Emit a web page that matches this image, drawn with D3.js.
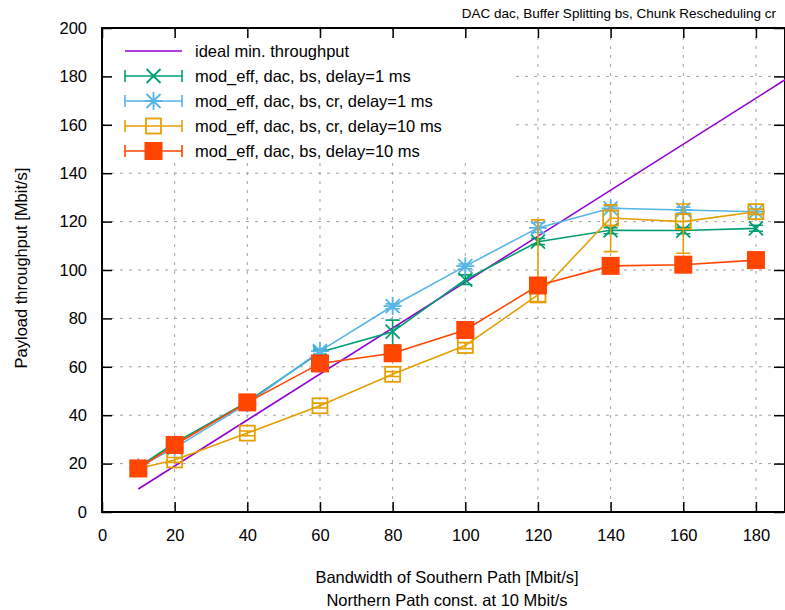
<!DOCTYPE html>
<html>
<head>
<meta charset="utf-8">
<script src="https://cdn.jsdelivr.net/npm/d3@7"></script>
<style>
  body { margin: 0; background: #fff; }
  text { font-family: "Liberation Sans", Arial, sans-serif; fill: #000; }
</style>
</head>
<body>
<script>
// x positions (Southern path bandwidth, Mbit/s)
var bandwidth = [10, 20, 40, 60, 80, 100, 120, 140, 160, 180];

// ideal line end points
var idealX = [10, 188];
var idealY = [9.5, 178.6];

// measured throughput + error bar ranges
var dacBs1 = [18.5, 28.5, 45.5, 66, 74.5, 96, 111.7, 116.4, 116.3, 117.2];
var dacBs1Lo = [17.5, 27.5, 44.5, 65, 69, 94, 110.5, 115, 115, 116];
var dacBs1Hi = [20.5, 29.5, 46.5, 67, 79.3, 98, 113, 117.5, 117.5, 118.5];

var dacBsCr1 = [18.5, 26.5, 44.8, 66.5, 85.1, 101.6, 117.4, 125.5, 124.8, 124.1];
var dacBsCr1Lo = [17.5, 25.5, 43.8, 65.5, 84, 100.5, 115.5, 124.5, 123.5, 123];
var dacBsCr1Hi = [20.5, 27.5, 45.8, 67.5, 86, 102.5, 119.5, 126.5, 126, 125];

var dacBsCr10 = [18, 21.5, 32.6, 43.9, 56.9, 68.8, 89.7, 121.5, 120, 124.1];
var dacBsCr10Lo = [17.5, 20.5, 31.5, 43, 56, 67.5, 87, 107.6, 106.9, 123];
var dacBsCr10Hi = [18.5, 22.5, 33.5, 45, 58, 70, 120.7, 126.9, 127.3, 125.2];

var dacBs10 = [18, 27.7, 45.3, 61.4, 65.6, 75.2, 93.6, 101.7, 102.2, 104.1];

var xTicks = [0, 20, 40, 60, 80, 100, 120, 140, 160, 180];
var yTicks = [0, 20, 40, 60, 80, 100, 120, 140, 160, 180, 200];

var width = 785, height = 610;
var plotLeft = 102, plotRight = 785, plotTop = 28, plotBottom = 512;

var x = d3.scaleLinear().domain([0, 188]).range([plotLeft, plotRight]);
var y = d3.scaleLinear().domain([0, 200]).range([plotBottom, plotTop]);

var svg = d3.select('body').append('svg')
  .attr('width', width)
  .attr('height', height);

// grid
var grid = svg.append('g');
grid.selectAll('.gx')
  .data(xTicks.slice(1))
  .enter()
  .append('line')
    .attr('x1', function (d) { return x(d); })
    .attr('x2', function (d) { return x(d); })
    .attr('y1', plotTop)
    .attr('y2', plotBottom)
    .attr('stroke', '#a0a0a0')
    .attr('stroke-width', 1)
    .attr('stroke-dasharray', '3,6');
grid.selectAll('.gy')
  .data(yTicks.slice(1, -1))
  .enter()
  .append('line')
    .attr('x1', plotLeft)
    .attr('x2', plotRight)
    .attr('y1', function (d) { return y(d); })
    .attr('y2', function (d) { return y(d); })
    .attr('stroke', '#a0a0a0')
    .attr('stroke-width', 1)
    .attr('stroke-dasharray', '3,6');

// opaque legend background
svg.append('rect')
  .attr('x', 112).attr('y', 38)
  .attr('width', 400).attr('height', 125)
  .attr('fill', '#fff');

// axes with inward ticks, mirrored on top and right
var fmt = d3.format('d');
function styleAxis(g) {
  g.select('.domain').remove();
  g.selectAll('line').attr('stroke', '#000').attr('stroke-width', 1.5);
  g.selectAll('text')
    .style('font-family', '"Liberation Sans", Arial, sans-serif')
    .style('font-size', '16.5px');
}

svg.append('g')
  .attr('transform', 'translate(0,' + plotBottom + ')')
  .call(d3.axisBottom(x).tickValues(xTicks).tickFormat(fmt).tickSizeInner(-10).tickPadding(17))
  .call(styleAxis);
svg.append('g')
  .attr('transform', 'translate(0,' + plotTop + ')')
  .call(d3.axisTop(x).tickValues(xTicks).tickFormat('').tickSizeInner(-10))
  .call(styleAxis);
svg.append('g')
  .attr('transform', 'translate(' + plotLeft + ',0)')
  .call(d3.axisLeft(y).tickValues(yTicks).tickFormat(fmt).tickSizeInner(-10).tickPadding(15))
  .call(styleAxis);
svg.append('g')
  .attr('transform', 'translate(' + (plotRight - 1) + ',0)')
  .call(d3.axisRight(y).tickValues(yTicks).tickFormat('').tickSizeInner(-10))
  .call(styleAxis);

// border
svg.append('rect')
  .attr('x', plotLeft).attr('y', plotTop)
  .attr('width', plotRight - plotLeft).attr('height', plotBottom - plotTop)
  .attr('fill', 'none')
  .attr('stroke', '#000')
  .attr('stroke-width', 2);

// marker drawing
function drawMarker(g, type, color, cx, cy) {
  if (type === 'x') {
    var s = 7;
    g.append('path')
      .attr('d', 'M' + (cx - s) + ',' + (cy - s) + 'L' + (cx + s) + ',' + (cy + s) +
        'M' + (cx - s) + ',' + (cy + s) + 'L' + (cx + s) + ',' + (cy - s))
      .attr('stroke', color).attr('stroke-width', 1.8).attr('fill', 'none');
  } else if (type === 'star') {
    var s2 = 7;
    g.append('path')
      .attr('d', 'M' + (cx - s2) + ',' + (cy - s2) + 'L' + (cx + s2) + ',' + (cy + s2) +
        'M' + (cx - s2) + ',' + (cy + s2) + 'L' + (cx + s2) + ',' + (cy - s2) +
        'M' + cx + ',' + (cy - s2 - 2) + 'L' + cx + ',' + (cy + s2 + 2) +
        'M' + (cx - s2 - 2) + ',' + cy + 'L' + (cx + s2 + 2) + ',' + cy)
      .attr('stroke', color).attr('stroke-width', 1.8).attr('fill', 'none');
  } else if (type === 'box') {
    g.append('rect')
      .attr('x', cx - 7.5).attr('y', cy - 7.5)
      .attr('width', 15).attr('height', 15)
      .attr('stroke', color).attr('stroke-width', 1.8).attr('fill', 'none');
  } else if (type === 'fbox') {
    g.append('rect')
      .attr('x', cx - 9).attr('y', cy - 9)
      .attr('width', 18).attr('height', 18)
      .attr('fill', color);
  }
}

var series = [
  { label: 'mod_eff, dac, bs, delay=1 ms', color: '#009e73', marker: 'x', v: dacBs1, lo: dacBs1Lo, hi: dacBs1Hi },
  { label: 'mod_eff, dac, bs, cr, delay=1 ms', color: '#56b4e9', marker: 'star', v: dacBsCr1, lo: dacBsCr1Lo, hi: dacBsCr1Hi },
  { label: 'mod_eff, dac, bs, cr, delay=10 ms', color: '#e69f00', marker: 'box', v: dacBsCr10, lo: dacBsCr10Lo, hi: dacBsCr10Hi },
  { label: 'mod_eff, dac, bs, delay=10 ms', color: '#ff4500', marker: 'fbox', v: dacBs10, lo: dacBs10, hi: dacBs10 }
];

var plot = svg.append('g');

// ideal line
plot.append('path')
  .datum(idealX.map(function (d, i) { return [d, idealY[i]]; }))
  .attr('d', d3.line().x(function (d) { return x(d[0]); }).y(function (d) { return y(d[1]); }))
  .attr('stroke', '#9400d3')
  .attr('stroke-width', 1.6)
  .attr('fill', 'none');

series.forEach(function (s) {
  var g = plot.append('g');
  g.append('path')
    .datum(bandwidth.map(function (d, i) { return [d, s.v[i]]; }))
    .attr('d', d3.line().x(function (d) { return x(d[0]); }).y(function (d) { return y(d[1]); }))
    .attr('stroke', s.color)
    .attr('stroke-width', 1.6)
    .attr('fill', 'none');
  // error bars
  bandwidth.forEach(function (b, i) {
    if (s.hi[i] - s.lo[i] < 0.1) return;
    var cx = x(b);
    g.append('path')
      .attr('d', 'M' + cx + ',' + y(s.lo[i]) + 'L' + cx + ',' + y(s.hi[i]) +
        'M' + (cx - 7) + ',' + y(s.lo[i]) + 'L' + (cx + 7) + ',' + y(s.lo[i]) +
        'M' + (cx - 7) + ',' + y(s.hi[i]) + 'L' + (cx + 7) + ',' + y(s.hi[i]))
      .attr('stroke', s.color)
      .attr('stroke-width', 1.6)
      .attr('fill', 'none');
  });
  bandwidth.forEach(function (b, i) {
    drawMarker(g, s.marker, s.color, x(b), y(s.v[i]));
  });
});

// legend
var legend = svg.append('g');
var legendRows = [{ label: 'ideal min. throughput', color: '#9400d3', marker: null }].concat(series);
legendRows.forEach(function (s, i) {
  var ly = 51 + i * 25;
  legend.append('line')
    .attr('x1', 125).attr('x2', 182)
    .attr('y1', ly).attr('y2', ly)
    .attr('stroke', s.color).attr('stroke-width', 1.6);
  if (s.marker) {
    legend.append('path')
      .attr('d', 'M125,' + (ly - 6) + 'L125,' + (ly + 6) + 'M182,' + (ly - 6) + 'L182,' + (ly + 6))
      .attr('stroke', s.color).attr('stroke-width', 1.6);
    drawMarker(legend, s.marker, s.color, 153.5, ly);
  }
  legend.append('text')
    .attr('x', 195).attr('y', ly + 6)
    .style('font-size', '16.5px')
    .text(s.label);
});

// titles
svg.append('text')
  .attr('x', 776).attr('y', 18)
  .attr('text-anchor', 'end')
  .style('font-size', '13.5px')
  .text('DAC dac, Buffer Splitting bs, Chunk Rescheduling cr');

svg.append('text')
  .attr('transform', 'translate(27,268) rotate(-90)')
  .attr('text-anchor', 'middle')
  .style('font-size', '16.5px')
  .text('Payload throughput [Mbit/s]');

svg.append('text')
  .attr('x', 447).attr('y', 583)
  .attr('text-anchor', 'middle')
  .style('font-size', '16.5px')
  .text('Bandwidth of Southern Path [Mbit/s]');

svg.append('text')
  .attr('x', 447).attr('y', 606)
  .attr('text-anchor', 'middle')
  .style('font-size', '16.5px')
  .text('Northern Path const. at 10 Mbit/s');
</script>
</body>
</html>
